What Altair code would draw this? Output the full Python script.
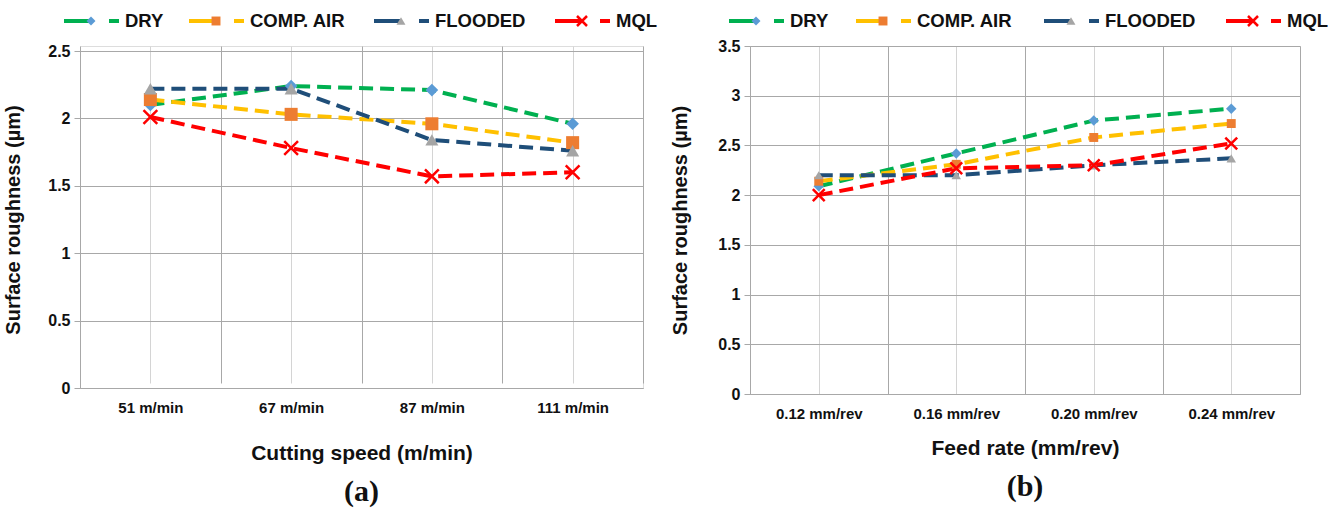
import altair as alt
import pandas as pd

series = ["DRY", "COMP. AIR", "FLOODED", "MQL"]
line_colors = ["#00B050", "#FFC000", "#1F4E79", "#FF0000"]
marker_colors = ["#5B9BD5", "#ED7D31", "#A5A5A5", "#FF0000"]
shapes = ["diamond", "square", "triangle-up", "M-1,-1L1,1M-1,1L1,-1"]

cats_a = ["51 m/min", "67 m/min", "87 m/min", "111 m/min"]
dry_a = [2.10, 2.24, 2.21, 1.96]
comp_a = [2.14, 2.03, 1.96, 1.82]
flood_a = [2.22, 2.22, 1.84, 1.76]
mql_a = [2.01, 1.78, 1.57, 1.60]

cats_b = ["0.12 mm/rev", "0.16 mm/rev", "0.20 mm/rev", "0.24 mm/rev"]
dry_b = [2.09, 2.42, 2.75, 2.87]
comp_b = [2.14, 2.31, 2.58, 2.72]
flood_b = [2.20, 2.20, 2.30, 2.37]
mql_b = [2.00, 2.27, 2.30, 2.52]

SANS = "'Liberation Sans', Arial, sans-serif"
SERIF = "'Liberation Serif', 'Times New Roman', serif"
GRID = "#a8a8a8"


def panel(cats, vals, ymax, W, H, top, xtitle, tag, leg_px, leg_y, msizes, leg_msizes,
          xtitle_pad, ytitle_pad, title_offset):
    n = len(cats)
    rows = []
    for s, v in zip(series, vals):
        for i, val in enumerate(v):
            rows.append({"series": s, "x": i + 0.5, "y": val})
    df = pd.DataFrame(rows)

    arr = "[" + ",".join("'" + c + "'" for c in cats) + "]"
    xscale = alt.Scale(domain=[0, n], nice=False, zero=False)
    yscale = alt.Scale(domain=[0, ymax], nice=False, range=[H + top, top])
    xaxis = alt.Axis(
        values=[k * 0.5 for k in range(2 * n + 1)],
        labelExpr="datum.value % 1 == 0.5 ? " + arr + "[floor(datum.value)] : ''",
        title=xtitle, titleFont=SANS, titleFontSize=21, titleFontWeight="bold",
        titlePadding=xtitle_pad, titleColor="#111",
        labelFont=SANS, labelFontSize=15, labelFontWeight="bold", labelColor="#111",
        labelPadding=12, ticks=False, labelOverlap=False,
        grid=True,
        gridColor={"condition": {"test": "datum.value % 1 == 0", "value": GRID},
                   "value": "#d4d4d4"},
        domainColor=GRID,
    )
    yaxis = alt.Axis(
        values=[k * 0.5 for k in range(int(ymax * 2) + 1)], format="~g",
        title="Surface roughness (µm)", titleFont=SANS, titleFontSize=20,
        titleFontWeight="bold", titleColor="#111", titlePadding=ytitle_pad,
        labelFont=SANS, labelFontSize=16, labelFontWeight="bold", labelColor="#111",
        labelPadding=4, tickSize=6, tickColor=GRID, gridColor=GRID,
        domainColor=GRID,
    )
    X = alt.X("x:Q", scale=xscale, axis=xaxis)
    Y = alt.Y("y:Q", scale=yscale, axis=yaxis)

    layers = []
    for i, s in enumerate(series):
        sub = df[df.series == s]
        layers.append(
            alt.Chart(sub).mark_line(color=line_colors[i], strokeWidth=4,
                                     strokeDash=[14, 7]).encode(x=X, y=Y)
        )
    for i, s in enumerate(series):
        sub = df[df.series == s]
        if i < 3:
            mk = alt.Chart(sub).mark_point(shape=shapes[i], filled=True, opacity=1,
                                           color=marker_colors[i], size=msizes[i])
        else:
            mk = alt.Chart(sub).mark_point(shape=shapes[i], filled=False, opacity=1,
                                           color=marker_colors[i], size=msizes[i],
                                           strokeWidth=2.5)
        layers.append(mk.encode(x=X, y=Y))

    # legend (layout offsets in pixels from plot left, converted to x units)
    u = n / W
    leg = pd.DataFrame({
        "series": series,
        "l1": [p * u for p in leg_px],
        "l2": [(p + 26) * u for p in leg_px],
        "m": [(p + 27) * u for p in leg_px],
        "d1": [(p + 45) * u for p in leg_px],
        "d2": [(p + 55) * u for p in leg_px],
        "t": [(p + 61) * u for p in leg_px],
    })
    for i, s in enumerate(series):
        sub = leg[leg.series == s]
        base = alt.Chart(sub)
        layers.append(base.mark_rule(color=line_colors[i], strokeWidth=4).encode(
            x=alt.X("l1:Q", scale=xscale), x2="l2:Q", y=alt.value(leg_y)))
        layers.append(base.mark_rule(color=line_colors[i], strokeWidth=4).encode(
            x=alt.X("d1:Q", scale=xscale), x2="d2:Q", y=alt.value(leg_y)))
        if i < 3:
            lm = base.mark_point(shape=shapes[i], filled=True, opacity=1,
                                 color=marker_colors[i], size=leg_msizes[i])
        else:
            lm = base.mark_point(shape=shapes[i], filled=False, opacity=1,
                                 color=marker_colors[i], size=leg_msizes[i],
                                 strokeWidth=2.5)
        layers.append(lm.encode(x=alt.X("m:Q", scale=xscale), y=alt.value(leg_y)))
        layers.append(base.mark_text(align="left", baseline="middle", font=SANS,
                                     fontSize=18.5, fontWeight="bold", color="#111").encode(
            x=alt.X("t:Q", scale=xscale), y=alt.value(leg_y), text="series:N"))

    return alt.layer(*layers).properties(
        width=W, height=H + top,
        title=alt.TitleParams(tag, orient="bottom", anchor="middle", font=SERIF,
                              fontSize=30, fontWeight="bold", color="#111",
                              offset=title_offset),
    )


pa = panel(cats_a, [dry_a, comp_a, flood_a, mql_a], 2.5, 563, 337, 5,
           "Cutting speed (m/min)", "(a)", [-16, 109, 294, 475], -25,
           [160, 170, 170, 190], [80, 80, 80, 100], 27, 24, 14)
pb = panel(cats_b, [dry_b, comp_b, flood_b, mql_b], 3.5, 550, 348, 0,
           "Feed rate (mm/rev)", "(b)", [-21, 106, 294, 476], -25,
           [110, 80, 90, 140], [80, 80, 80, 100], 16, 27, 14)

chart = alt.hconcat(pa, pb, spacing=12).properties(
    padding={"left": 3, "top": 10, "right": 0, "bottom": 0}
).configure_view(strokeWidth=0).configure(background="white")

chart.save("out.html", embed_options={"renderer": "svg", "actions": False})
